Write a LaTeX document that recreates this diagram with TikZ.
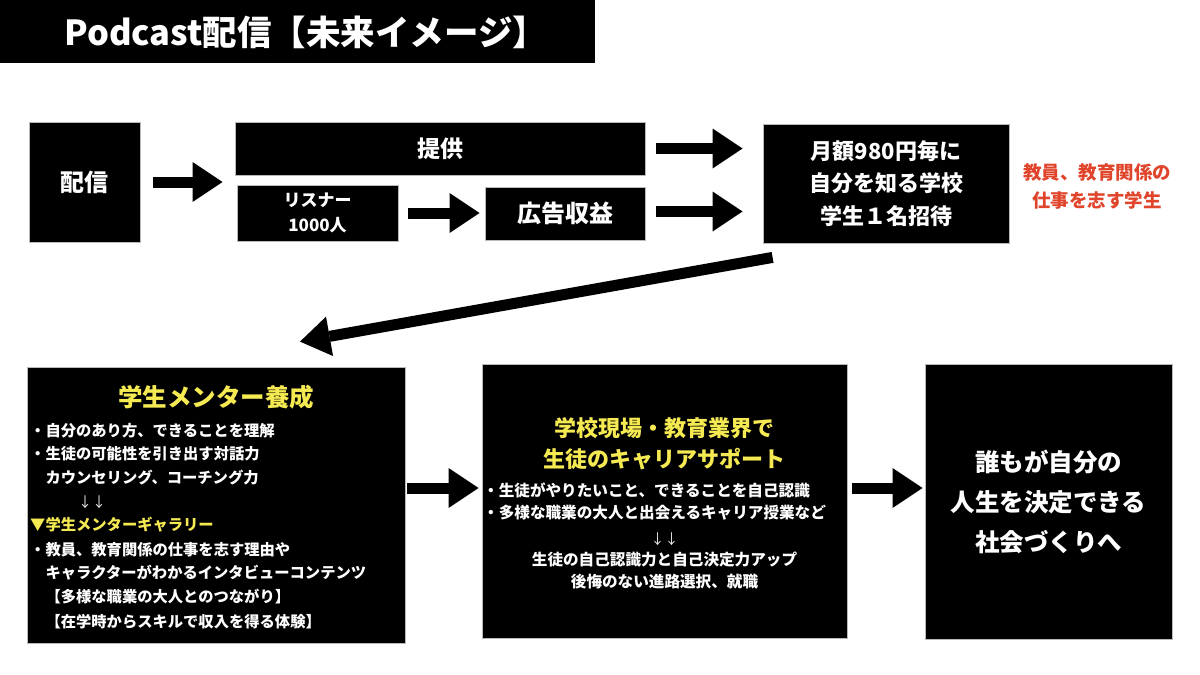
\documentclass[tikz,border=0pt]{standalone}
\usepackage{fontspec}
\setmainfont{Noto Sans CJK JP}
\usetikzlibrary{arrows.meta}
\newcommand{\myfs}[1]{\fontsize{#1}{#1}\selectfont\bfseries}
\newcommand{\myfsb}[2]{\fontsize{#1}{#2}\selectfont\bfseries}
\definecolor{myyellow}{HTML}{F6EA52}
\definecolor{myred}{HTML}{E0452B}
\tikzset{
  box/.style={fill=black, draw=gray!55, line width=0.8pt, inner sep=0pt, text=white},
  wline/.style={text=white, inner sep=0pt, anchor=west, font=\myfs{15.3}},
  cwline/.style={text=white, inner sep=0pt, anchor=west, font=\myfs{15.6}},
  cline/.style={text=white, inner sep=0pt, font=\myfs{15.6}},
  yline/.style={text=myyellow, inner sep=0pt},
  downs/.style={text=white!85!gray, inner sep=0pt, font=\fontsize{14}{14}\selectfont},
  bigarrow/.style={line width=11pt, -{Triangle[length=30pt,width=40pt,line width=0pt]}},
}
\begin{document}
\begin{tikzpicture}[x=1pt,y=-1pt]
\fill[white] (0,0) rectangle (1200,675);
\useasboundingbox (0,0) rectangle (1200,675);

% title
\node[fill=black, inner sep=0pt, anchor=north west, minimum width=595pt, minimum height=63pt] (titlebox) at (0,0) {};
\node[text=white, inner sep=0pt, anchor=west, font=\myfs{34.5}] (titletext) at (64,32) {Podcast配信【未来イメージ】};

% top row
\node[box, minimum width=111pt, minimum height=120pt, font=\myfs{24}] (haishin) at (84.5,182) {配信};
\node[box, minimum width=410pt, minimum height=53pt, font=\myfs{23}] (teikyo) at (440,148.5) {提供};
\node[box, minimum width=161pt, minimum height=56pt, font=\myfsb{17}{25}, align=center] (listener) at (317.5,213) {リスナー\\1000人};
\node[box, minimum width=160pt, minimum height=53pt, font=\myfs{24}] (koukoku) at (565,213.5) {広告収益};
\node[box, minimum width=246pt, minimum height=119pt, font=\myfsb{22}{32.5}, align=center] (getsu) at (886,183.5) {月額980円毎に\\自分を知る学校\\学生１名招待};
\node[text=myred, inner sep=0pt, font=\myfsb{18.5}{28}, align=center] (redtext) at (1097,186) {教員、教育関係の\\仕事を志す学生};

% bottom row
\node[box, minimum width=378pt, minimum height=276pt] (mentor) at (216,505) {};
\node[box, minimum width=365pt, minimum height=274pt] (middle) at (664.5,501) {};
\node[box, minimum width=247pt, minimum height=275pt, font=\myfsb{24.5}{40}, align=center] (goal) at (1048.5,501.5) {誰もが自分の\\人生を決定できる\\社会づくりへ};

% mentor text
\node[yline, font=\myfs{24.5}] (mtitle) at (216,397) {学生メンター養成};
\node[wline] (m1) at (30,431) {・自分のあり方、できることを理解};
\node[wline] (m2) at (30,454) {・生徒の可能性を引き出す対話力};
\node[wline] (m3) at (30,478) {　カウンセリング、コーチング力};
\node[downs, anchor=west] (m4) at (78,502) {↓↓};
\node[yline, anchor=west, font=\myfs{15.3}] (m5) at (30,525) {▼学生メンターギャラリー};
\node[wline] (m6) at (30,550) {・教員、教育関係の仕事を志す理由や};
\node[wline] (m7) at (30,573) {　キャラクターがわかるインタビューコンテンツ};
\node[wline] (m8) at (30,597) {　【多様な職業の大人とのつながり】};
\node[wline] (m9) at (30,622) {　【在学時からスキルで収入を得る体験】};

% middle text
\node[yline, font=\myfs{22}] (ct1) at (664.5,428) {学校現場・教育業界で};
\node[yline, font=\myfs{22}] (ct2) at (664.5,459) {生徒のキャリアサポート};
\node[cwline] (c1) at (483,490) {・生徒がやりたいこと、できることを自己認識};
\node[cwline] (c2) at (483,513) {・多様な職業の大人と出会えるキャリア授業など};
\node[downs] (c3) at (664.5,539) {↓↓};
\node[cline] (c4) at (664.5,560) {生徒の自己認識力と自己決定力アップ};
\node[cline] (c5) at (664.5,582) {後悔のない進路選択、就職};

% connectors
\draw[bigarrow] ([xshift=13pt]haishin.east) -- ([xshift=-12pt]haishin.east -| teikyo.west);
\draw[bigarrow] ([xshift=10pt]listener.east) -- ([xshift=-5pt]listener.east -| koukoku.west);
\draw[bigarrow] ([xshift=11pt]teikyo.east) -- ([xshift=-20pt]teikyo.east -| getsu.west);
\draw[bigarrow] ([xshift=11pt,yshift=2pt]koukoku.east) -- ([xshift=-20pt,yshift=2pt]koukoku.east -| getsu.west);
\coordinate (diagStart) at ([xshift=10pt,yshift=-14pt]getsu.south west);
\coordinate (diagEnd) at ([xshift=84pt,yshift=25pt]mentor.north);
\draw[bigarrow] (diagStart) -- (diagEnd);
\draw[bigarrow] ([xshift=2pt,yshift=17pt]mentor.east) -- ([xshift=-3pt,yshift=17pt]mentor.east -| middle.west);
\draw[bigarrow] ([xshift=5pt,yshift=13pt]middle.east) -- ([xshift=-2pt,yshift=13pt]middle.east -| goal.west);
\end{tikzpicture}
\end{document}
